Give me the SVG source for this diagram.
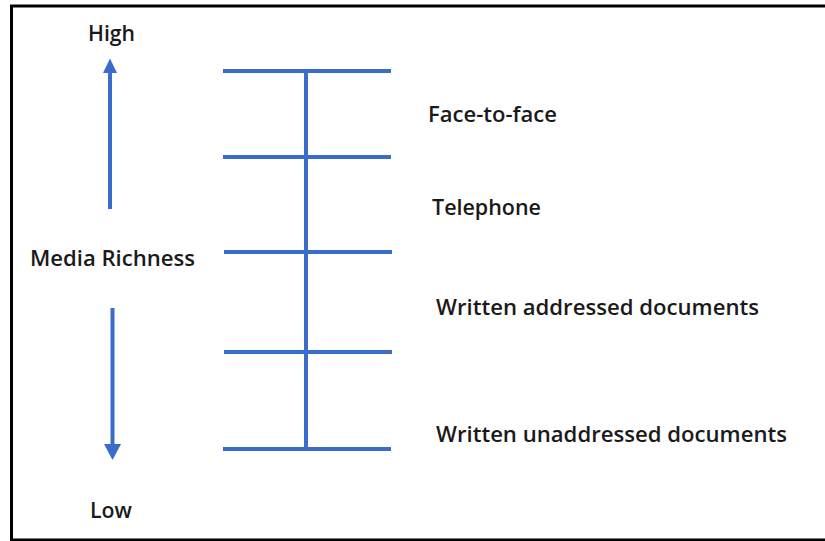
<svg xmlns="http://www.w3.org/2000/svg" width="825" height="541" viewBox="0 0 825 541">
  <defs>
    <style>
      .lbl { font-family: "Open Sans", "Liberation Sans", sans-serif; font-size: 21px; font-weight: 600; fill: #1a1a1a; }
      .bar { stroke: #3a6ccc; stroke-width: 4; fill: none; }
      .head { fill: #3a6ccc; }
    </style>
  </defs>
  <rect x="0" y="0" width="825" height="541" fill="#ffffff"/>
  <rect id="frame" x="11.5" y="6" width="820" height="534" fill="none" stroke="#000000" stroke-width="3"/>

  <g id="axis-labels">
    <text class="lbl" x="88" y="41" textLength="47" lengthAdjust="spacingAndGlyphs">High</text>
    <text class="lbl" x="30" y="266" textLength="165" lengthAdjust="spacingAndGlyphs">Media Richness</text>
    <text class="lbl" x="90" y="518" textLength="42" lengthAdjust="spacingAndGlyphs">Low</text>
  </g>

  <g id="connectors">
    <g id="arrow-up">
      <line class="bar" x1="110" y1="209" x2="110" y2="72"/>
      <polygon class="head" points="110,58.5 103,73 117,73"/>
    </g>
    <g id="arrow-down">
      <line class="bar" x1="112.5" y1="308" x2="112.5" y2="446"/>
      <polygon class="head" points="112.5,460 104,444 121,444"/>
    </g>
    <line class="bar" x1="306" y1="69" x2="306" y2="449"/>
    <line class="bar" x1="223" y1="71" x2="391" y2="71"/>
    <line class="bar" x1="223" y1="157" x2="391" y2="157"/>
    <line class="bar" x1="224" y1="252" x2="392" y2="252"/>
    <line class="bar" x1="224" y1="352" x2="392" y2="352"/>
    <line class="bar" x1="223" y1="449" x2="391" y2="449"/>
  </g>

  <g id="node-face">
    <text class="lbl" x="428" y="122" textLength="129" lengthAdjust="spacingAndGlyphs">Face-to-face</text>
  </g>
  <g id="node-telephone">
    <text class="lbl" x="432" y="215" textLength="109" lengthAdjust="spacingAndGlyphs">Telephone</text>
  </g>
  <g id="node-written-addressed">
    <text class="lbl" x="436" y="315" textLength="323" lengthAdjust="spacingAndGlyphs">Written addressed documents</text>
  </g>
  <g id="node-written-unaddressed">
    <text class="lbl" x="436" y="442" textLength="351" lengthAdjust="spacingAndGlyphs">Written unaddressed documents</text>
  </g>
</svg>
